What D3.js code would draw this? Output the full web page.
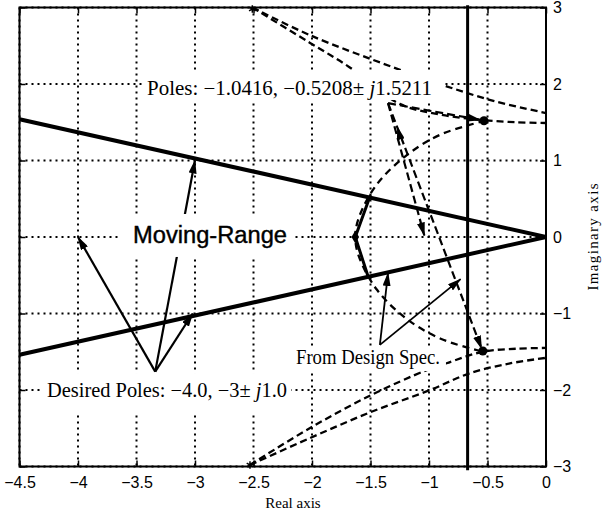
<!DOCTYPE html>
<html lang="en">
<head>
<meta charset="UTF-8">
<title>Root locus with moving range</title>
<style>
  body { margin: 0; background: #fff; }
  svg { display: block; }
  .grid line { stroke: #000; stroke-width: 2; stroke-dasharray: 2,4; }
  .axis text { font-family: "Liberation Sans", Arial, sans-serif; font-size: 16px; fill: #000; }
  .axis line { stroke: #000; stroke-width: 1.5; }
  .axis path { display: none; }
  .serif { font-family: "Liberation Serif", "Times New Roman", serif; }
</style>
</head>
<body>
<div id="chart"></div>
<script src="https://d3js.org/d3.v7.min.js"></script>
<script>
// ticks
const xTicks = [-4.5, -4, -3.5, -3, -2.5, -2, -1.5, -1, -0.5, 0];
const yTicks = [-3, -2, -1, 0, 1, 2, 3];

// design region boundaries
const dampingUpper = [[-4.5, 1.54], [0, 0]];
const dampingLower = [[-4.5, -1.54], [0, 0]];
const realLimit = -0.67;

// natural frequency arc
const wnArc = [[-0.52, 1.52], [-0.9, 1.34], [-1.19, 1.07], [-1.45, 0.68], [-1.6, 0.25], [-1.63, 0],
               [-1.6, -0.25], [-1.45, -0.68], [-1.2, -1.06], [-0.9, -1.33], [-0.54, -1.5]];

// root locus branches
const locusUpperA = [[-2.51, 3.0], [-2.02, 2.64], [-1.31, 2.22], [-0.89, 1.99], [-0.45, 1.78], [0, 1.62]];
const locusUpperB = [[-2.51, 3.0], [-2.02, 2.54], [-1.68, 2.22], [-1.25, 1.74], [-0.9, 1.6], [-0.55, 1.53], [-0.25, 1.5], [0, 1.49]];
const locusLowerA = [[-2.53, -2.98], [-2.02, -2.5], [-1.5, -2.07], [-1.02, -1.74], [-0.85, -1.65], [-0.54, -1.5], [-0.25, -1.46], [0, -1.45]];
const locusLowerB = [[-2.53, -2.98], [-2.02, -2.63], [-1.5, -2.29], [-0.99, -2.0], [-0.65, -1.78], [-0.3, -1.65], [0, -1.58]];
const startMarks = [[-2.51, 2.98], [-2.53, -2.98]];

// closed-loop poles
const poles = [[-0.53, 1.52], [-0.54, -1.49]];

// annotation arrows: [from, to]
const desiredArrows = [[[-3.34, -1.76], [-4, 0]], [[-3.34, -1.76], [-3.02, -1.0]], [[-3.34, -1.76], [-3.0, 1.0]]];
const specArrows = [[[-1.42, -1.41], [-1.35, -0.47]], [[-1.42, -1.41], [-0.73, -0.55]]];
const polesArrows = [[[-1.35, 1.75], [-0.56, 1.53]], [[-1.35, 1.75], [-1.04, 0.02]], [[-1.35, 1.75], [-0.55, -1.46]]];
const polesMidHead = [[-1.245, 1.3], [-1.27, 1.44]];
const wnMark = [[-1.5, 0.55], [-1.63, 0], [-1.52, -0.52]];

const width = 613, height = 515;
const x = d3.scaleLinear().domain([-4.5, 0]).range([19.5, 546]);
const y = d3.scaleLinear().domain([-3, 3]).range([466.5, 7.5]);
const line = d3.line().x(d => x(d[0])).y(d => y(d[1]));
const curve = d3.line().x(d => x(d[0])).y(d => y(d[1])).curve(d3.curveCatmullRom);

const svg = d3.select("#chart").append("svg")
    .attr("width", width)
    .attr("height", height);

const defs = svg.append("defs");
defs.append("marker")
    .attr("id", "head")
    .attr("viewBox", "0 0 14 8")
    .attr("refX", 13).attr("refY", 4)
    .attr("markerWidth", 14).attr("markerHeight", 8)
    .attr("markerUnits", "userSpaceOnUse")
    .attr("orient", "auto")
    .append("path").attr("d", "M0,0L14,4L0,8Z").attr("fill", "#000");

// grid
const grid = svg.append("g").attr("class", "grid");
grid.selectAll(".vx").data(xTicks).enter().append("line")
    .attr("x1", d => x(d)).attr("x2", d => x(d))
    .attr("y1", y(3)).attr("y2", y(-3));
grid.selectAll(".hy").data(yTicks).enter().append("line")
    .attr("y1", d => y(d)).attr("y2", d => y(d))
    .attr("x1", x(-4.5)).attr("x2", x(0));

// root locus branches (dashed)
const dashed = svg.append("g").attr("fill", "none").attr("stroke", "#000")
    .attr("stroke-width", 2.3).attr("stroke-dasharray", "7,4");
[locusUpperA, locusUpperB, locusLowerA, locusLowerB].forEach(b => dashed.append("path").attr("d", curve(b)));
dashed.append("path").attr("d", curve(wnArc)).attr("stroke-dasharray", "7,5");

svg.selectAll(".start").data(startMarks).enter().append("path")
    .attr("transform", d => `translate(${x(d[0])},${y(d[1])})`)
    .attr("d", d3.symbol(d3.symbolAsterisk, 40))
    .attr("stroke", "#000").attr("stroke-width", 1.5).attr("fill", "none");

// design region lines
svg.append("path").attr("d", line(dampingUpper)).attr("stroke", "#000").attr("stroke-width", 4).attr("fill", "none");
svg.append("path").attr("d", line(dampingLower)).attr("stroke", "#000").attr("stroke-width", 4).attr("fill", "none");
svg.append("line")
    .attr("x1", x(realLimit)).attr("x2", x(realLimit))
    .attr("y1", y(3.03)).attr("y2", y(-3.05))
    .attr("stroke", "#000").attr("stroke-width", 3);
svg.append("path").attr("d", line(wnMark)).attr("stroke", "#000").attr("stroke-width", 3).attr("fill", "none");
svg.append("path")
    .attr("transform", `translate(${x(wnMark[1][0])},${y(wnMark[1][1])})`)
    .attr("d", d3.symbol(d3.symbolDiamond, 50)).attr("fill", "#000");

// poles
svg.selectAll(".pole").data(poles).enter().append("circle")
    .attr("cx", d => x(d[0])).attr("cy", d => y(d[1])).attr("r", 4.5).attr("fill", "#000");

// arrows
function arrows(list, w, dash) {
  svg.append("g").selectAll("path").data(list).enter().append("path")
      .attr("d", d => line(d))
      .attr("stroke", "#000").attr("stroke-width", w)
      .attr("stroke-dasharray", dash)
      .attr("fill", "none")
      .attr("marker-end", "url(#head)");
}
arrows(desiredArrows, 2.2, null);
arrows(specArrows, 1.8, null);
arrows(polesArrows, 2.2, "8,4");
svg.append("path").attr("d", line(polesMidHead)).attr("stroke", "none").attr("fill", "none")
    .attr("marker-end", "url(#head)");

// labels with white boxes
function label(box, pos, len, cls, size, build) {
  svg.append("rect")
      .attr("x", x(box[0][0])).attr("y", y(box[0][1]))
      .attr("width", x(box[1][0]) - x(box[0][0]))
      .attr("height", y(box[1][1]) - y(box[0][1]))
      .attr("fill", "#fff");
  const t = svg.append("text")
      .attr("class", cls)
      .attr("x", x(pos[0])).attr("y", y(pos[1]))
      .attr("font-size", size)
      .attr("textLength", len)
      .attr("lengthAdjust", "spacingAndGlyphs");
  build(t);
}
label([[-3.444, 2.183], [-0.87, 1.791]], [-3.41, 1.856], 285, "serif", 20, t => {
  t.append("tspan").text("Poles: \u22121.0416, \u22120.5208\u00b1 ");
  t.append("tspan").attr("font-style", "italic").text("j");
  t.append("tspan").text("1.5211");
});
label([[-3.641, 0.301], [-2.162, -0.261]], [-3.53, -0.078], 154, null, 23, t => {
  t.attr("font-family", "'Liberation Sans', Arial, sans-serif")
   .attr("stroke", "#000").attr("stroke-width", 0.4)
   .text("Moving-Range");
});
label([[-4.308, -1.778], [-2.179, -2.288]], [-4.265, -2.092], 240, "serif", 20, t => {
  t.append("tspan").text("Desired Poles: \u22124.0, \u22123\u00b1 ");
  t.append("tspan").attr("font-style", "italic").text("j");
  t.append("tspan").text("1.0");
});
label([[-2.171, -1.438], [-0.855, -1.752]], [-2.137, -1.66], 144, "serif", 20, t => {
  t.text("From Design Spec.");
});

// frame
svg.append("rect")
    .attr("x", x(-4.5)).attr("y", y(3))
    .attr("width", x(0) - x(-4.5)).attr("height", y(-3) - y(3))
    .attr("fill", "none").attr("stroke", "#000").attr("stroke-width", 2);

// axes
svg.append("g").attr("class", "axis")
    .attr("transform", `translate(0,${y(-3)})`)
    .call(d3.axisBottom(x).tickValues(xTicks).tickSizeInner(-6).tickSizeOuter(0).tickPadding(10)
      .tickFormat(d3.format("")));
svg.append("g").attr("class", "axis")
    .attr("transform", `translate(0,${y(3)})`)
    .call(d3.axisTop(x).tickValues(xTicks).tickSizeInner(-6).tickSizeOuter(0).tickFormat(""));
svg.append("g").attr("class", "axis")
    .attr("transform", `translate(${x(0)},0)`)
    .call(d3.axisRight(y).tickValues(yTicks).tickSizeInner(-6).tickSizeOuter(0).tickPadding(7)
      .tickFormat(d3.format("")));
svg.append("g").attr("class", "axis")
    .attr("transform", `translate(${x(-4.5)},0)`)
    .call(d3.axisLeft(y).tickValues(yTicks).tickSizeInner(-6).tickSizeOuter(0).tickFormat(""));

// axis titles
svg.append("text").attr("class", "serif")
    .attr("x", 293).attr("y", 508)
    .attr("text-anchor", "middle").attr("font-size", 15)
    .text("Real axis");
svg.append("text").attr("class", "serif")
    .attr("transform", "translate(598,237) rotate(-90)")
    .attr("text-anchor", "middle").attr("font-size", 15)
    .attr("textLength", 107).attr("lengthAdjust", "spacing")
    .text("Imaginary axis");
</script>
</body>
</html>
